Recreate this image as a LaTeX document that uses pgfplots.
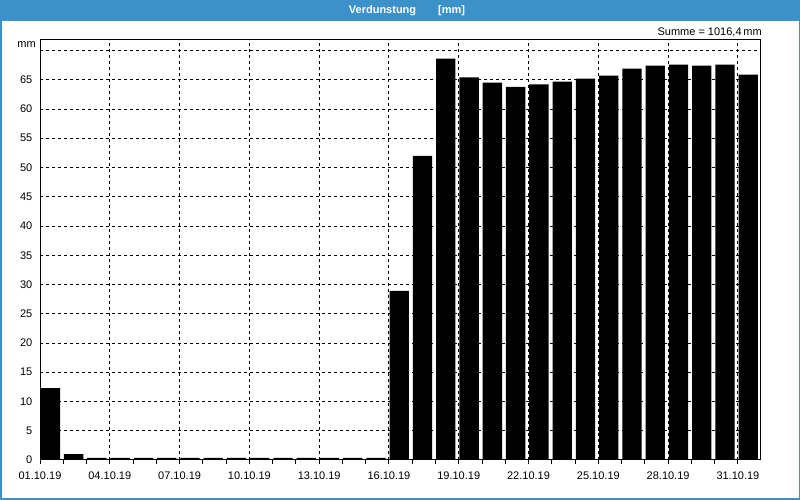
\documentclass[border=0pt]{standalone}
\usepackage{pgfplots}
\pgfplotsset{compat=1.18}
\usepackage{fontspec}
\setmainfont{Liberation Sans}
\definecolor{titleblue}{RGB}{60,145,201}
\pgfplotstableread{
x y
0 12.3
1 1.0
2 0.35
3 0.35
4 0.35
5 0.35
6 0.35
7 0.35
8 0.35
9 0.35
10 0.35
11 0.35
12 0.35
13 0.35
14 0.35
15 28.9
16 52.0
17 68.6
18 65.4
19 64.5
20 63.8
21 64.2
22 64.7
23 65.2
24 65.7
25 66.9
26 67.4
27 67.6
28 67.4
29 67.6
30 65.9
}\verd
\begin{document}
\begin{tikzpicture}[x=1pt,y=1pt]
\fill[white] (0,0) rectangle (800,500);
\fill[titleblue] (0,479) rectangle (800,500);
\fill[titleblue] (0,0) rectangle (1.5,500);
\fill[titleblue] (798.5,0) rectangle (800,500);
\fill[titleblue] (0,0) rectangle (800,1.5);
\node[white,font=\fontsize{11}{13}\selectfont\bfseries,inner sep=0pt] at (407,489.5) {Verdunstung\hspace{2em}[mm]};
\node[anchor=east,font=\fontsize{11}{13}\selectfont,inner sep=0pt] at (762,468) {Summe = 1016,4\,mm};
\node[anchor=east,font=\fontsize{11}{13}\selectfont,inner sep=0pt] at (36,455) {mm};
\begin{axis}[
  at={(40pt,40pt)}, anchor=south west, scale only axis,
  width=720pt, height=420pt,
  xmin=0, xmax=30.95, ymin=0, ymax=71.8,
  axis line style={line width=1pt},
  every tick/.style={black, line width=1pt},
  tick align=outside,
  major tick length=4pt, minor tick length=4pt,
  xtick pos=bottom, ytick pos=left,
  xtick={0,3,...,30},
  xticklabels={01.10.19,04.10.19,07.10.19,10.10.19,13.10.19,16.10.19,19.10.19,22.10.19,25.10.19,28.10.19,31.10.19},
  minor xtick={0,...,30},
  ytick={0,5,...,70},
  yticklabels={0,5,10,15,20,25,30,35,40,45,50,55,60,65,{}},
  ytick style={draw=none},
  xmajorgrids, ymajorgrids,
  grid style={black, line width=1pt, dash pattern=on 3pt off 3pt},
  tick label style={font=\fontsize{11}{13}\selectfont},
  /pgf/number format/assume math mode=true,
  yticklabel style={inner sep=3.5pt},
  xticklabel style={yshift=-4pt},
]
\addplot[ybar, bar width=0.83, bar shift=0.445, fill=black, draw=none] table[x=x,y=y] {\verd};
\end{axis}
\pgfresetboundingbox
\path[use as bounding box] (0,0) rectangle (800,500);
\end{tikzpicture}
\end{document}
